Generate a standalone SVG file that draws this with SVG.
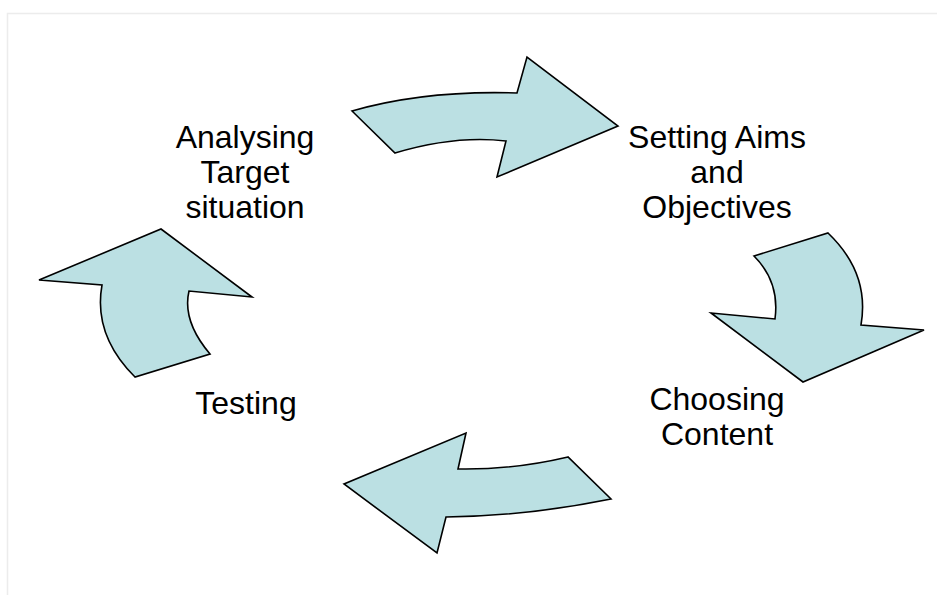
<svg xmlns="http://www.w3.org/2000/svg" width="937" height="595" viewBox="0 0 937 595">
<style>
.arrow{fill:#BBE0E3;stroke:#000;stroke-width:1.6;stroke-linejoin:miter}
.lbl{font-family:"Liberation Sans",Arial,sans-serif;font-size:32px;fill:#000;text-anchor:middle}
.frame{stroke:#ececec;stroke-width:1.5;fill:none}
</style>
<rect width="937" height="595" fill="#fff"/>
<path class="frame" d="M7.5,595 V13.5 H937"/>
<g id="connectors">
<path id="arrow-top" class="arrow" d="M352,111 Q425,90 517,93 L527,57 L618,126 L497,177 L506,141 Q455,135 395,153 Z"/>
<path id="arrow-right" class="arrow" d="M754,256 L828,233 Q870,273 861,325 L924,330 L803,382 L711,313 L775,319 Q780,282 754,256 Z"/>
<path id="arrow-bottom" class="arrow" d="M466,433 L458,469 Q513,470 568,457 L611,499 Q528,516 446,517 L437,553 L344,484 Z"/>
<path id="arrow-left" class="arrow" d="M161,229 L252,297 L189,291 Q182,321 210,354 L135,377 Q93,335 102,285 L39,280 Z"/>
</g>
<g id="node-analysing">
<text class="lbl" x="245" y="148">Analysing</text>
<text class="lbl" x="245" y="183">Target</text>
<text class="lbl" x="245" y="218">situation</text>
</g>
<g id="node-aims">
<text class="lbl" x="717" y="148">Setting Aims</text>
<text class="lbl" x="717" y="183">and</text>
<text class="lbl" x="717" y="218">Objectives</text>
</g>
<g id="node-content">
<text class="lbl" x="717" y="410">Choosing</text>
<text class="lbl" x="717" y="445">Content</text>
</g>
<g id="node-testing">
<text class="lbl" x="246" y="414">Testing</text>
</g>
</svg>
